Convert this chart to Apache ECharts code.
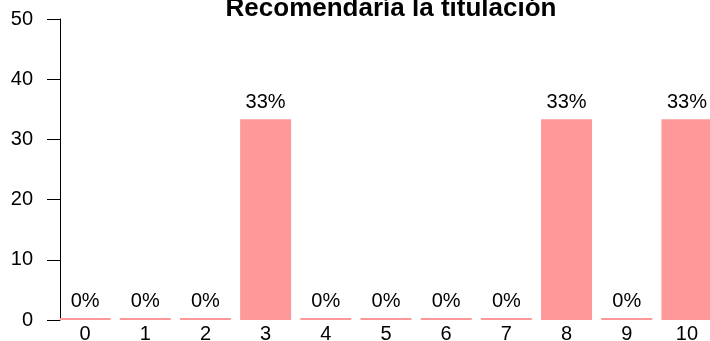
<!DOCTYPE html>
<html>
<head>
<meta charset="utf-8">
<script src="https://cdn.jsdelivr.net/npm/echarts@6/dist/echarts.min.js"></script>
<style>
  html, body { margin: 0; padding: 0; background: #fff; }
  #main { width: 710px; height: 341px; }
</style>
</head>
<body>
<div id="main"></div>
<script>
// puntuaciones 0-10 y porcentaje de respuestas
var categories = ['0', '1', '2', '3', '4', '5', '6', '7', '8', '9', '10'];
var percentages = [0, 0, 0, 33.33, 0, 0, 0, 0, 33.33, 0, 33.33];
var yTicks = [0, 10, 20, 30, 40, 50];

var chart = echarts.init(document.getElementById('main'));
var font = 'Liberation Sans, Arial, sans-serif';

var option = {
  animation: false,
  title: {
    text: 'Recomendaría la titulación',
    left: 386,
    textAlign: 'center',
    top: -9,
    textStyle: { fontFamily: font, fontSize: 26, fontWeight: 'bold', color: '#000' }
  },
  grid: { left: 55, width: 662, top: 19, bottom: 21, outerBoundsMode: 'none' },
  xAxis: {
    type: 'category',
    data: categories,
    axisLine: { show: false },
    axisTick: { show: false },
    axisLabel: { margin: 4, fontFamily: font, fontSize: 20, color: '#000' }
  },
  yAxis: {
    type: 'value',
    min: yTicks[0],
    max: yTicks[yTicks.length - 1],
    interval: 10,
    offset: -5,
    splitLine: { show: false },
    axisLine: { show: true, lineStyle: { color: '#000', width: 1 } },
    axisTick: { show: true, length: 13, lineStyle: { color: '#000' } },
    axisLabel: { margin: 27, fontFamily: font, fontSize: 20, color: '#000' }
  },
  series: [{
    type: 'bar',
    data: percentages,
    barWidth: 51,
    barMinHeight: 2,
    itemStyle: { color: '#FF9999' },
    label: {
      show: true,
      position: 'top',
      distance: 7,
      fontFamily: font,
      fontSize: 20,
      color: '#000',
      formatter: function (p) { return Math.round(p.value) + '%'; }
    }
  }]
};
chart.setOption(option);
</script>
</body>
</html>
